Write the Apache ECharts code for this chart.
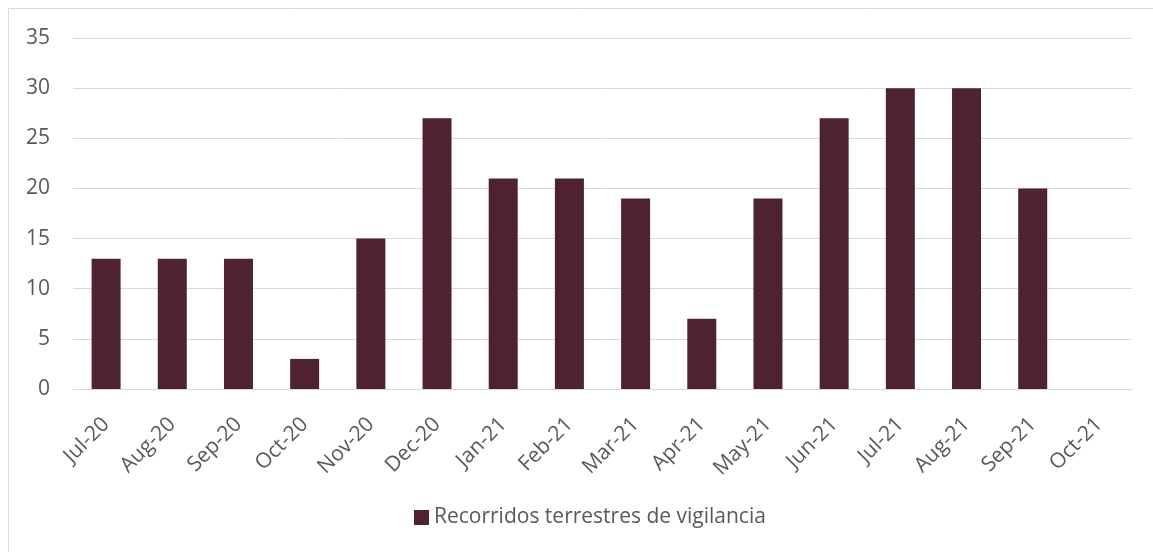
<!DOCTYPE html>
<html><head><meta charset="utf-8">
<script src="https://cdn.jsdelivr.net/npm/echarts@6/dist/echarts.min.js"></script>
<style>html,body{margin:0;padding:0;background:#fff}#c{width:1153px;height:552px}</style>
</head><body><div id="c"></div>
<script>
const categories = ['Jul-20','Aug-20','Sep-20','Oct-20','Nov-20','Dec-20','Jan-21','Feb-21','Mar-21','Apr-21','May-21','Jun-21','Jul-21','Aug-21','Sep-21','Oct-21'];
const values = [13,13,13,3,15,27,21,21,19,7,19,27,30,30,20,null];
const seriesName = 'Recorridos terrestres de vigilancia';
const font = '"Open Sans", "Noto Sans", sans-serif';
const chart = echarts.init(document.getElementById('c'));
chart.setOption({
  animation:false,
  graphic:[{type:'rect',shape:{x:8.5,y:8.5,width:1200,height:600},style:{fill:'none',stroke:'#d9d9d9',lineWidth:1},silent:true}],
  grid:{left:73,right:21,top:38,bottom:163},
  xAxis:{type:'category',data:categories,
    axisLine:{lineStyle:{color:'#d9d9d9',width:1}},axisTick:{show:false},
    axisLabel:{rotate:45,color:'#595959',fontSize:21,fontFamily:font,margin:32,interval:0}},
  yAxis:{type:'value',min:0,max:35,interval:5,
    axisLine:{show:false},axisTick:{show:false},
    splitLine:{lineStyle:{color:'#d9d9d9',width:1}},
    axisLabel:{color:'#595959',fontSize:21,fontFamily:font,margin:23}},
  legend:{bottom:19,left:409,itemWidth:15,itemHeight:15,icon:'rect',itemGap:4,
    textStyle:{color:'#595959',fontSize:21,fontFamily:font}},
  series:[{name:seriesName,type:'bar',data:values,barWidth:29,itemStyle:{color:'#4E2230'}}]
});
</script></body></html>
